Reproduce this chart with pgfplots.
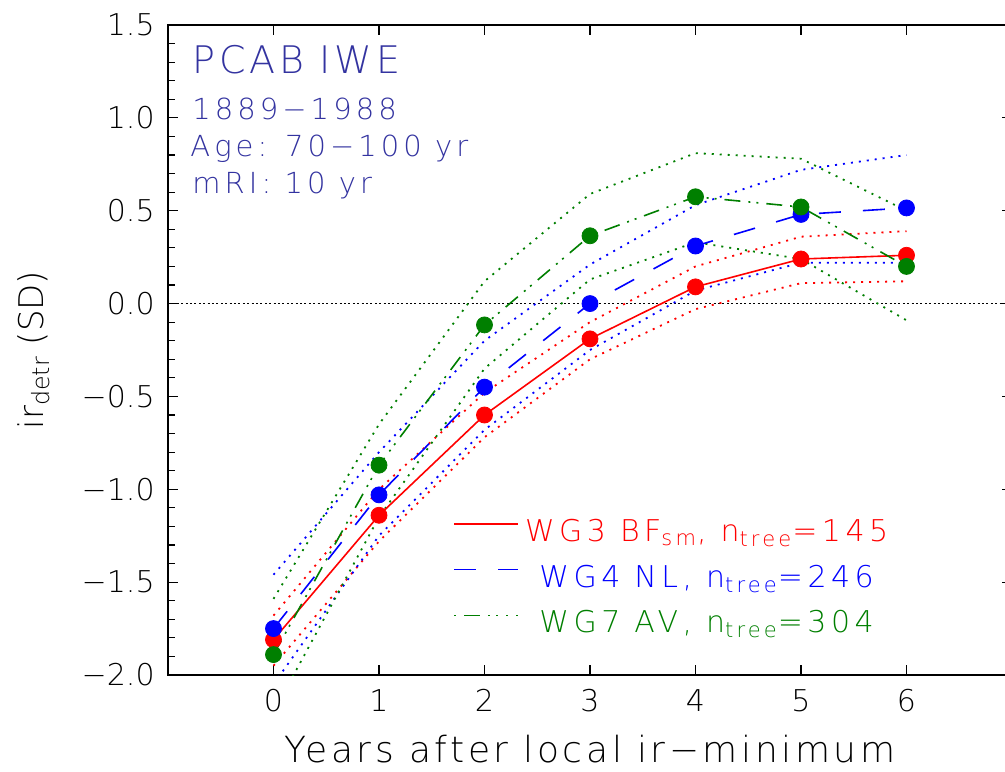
\documentclass[border=0pt]{standalone}
\usepackage{fontspec}
\setmainfont{DejaVu Sans ExtraLight}
\newfontfamily\widefont[LetterSpace=10]{DejaVu Sans ExtraLight}
\newfontfamily\legfont[LetterSpace=15]{DejaVu Sans ExtraLight}
\newfontfamily\annfont[LetterSpace=14]{DejaVu Sans ExtraLight}
\usepackage{pgfplots}
\usepackage{pgfplotstable}
\pgfplotsset{compat=1.18}
\definecolor{wgred}{HTML}{FF0000}
\definecolor{wgblue}{HTML}{0000FF}
\definecolor{wggreen}{HTML}{007F00}
\definecolor{annot}{HTML}{3333A0}

% mean, upper and lower band per group
\pgfplotstableread{
x mean up lo
0 -1.81 -1.68 -1.95
1 -1.14 -1.00 -1.28
2 -0.60 -0.48 -0.72
3 -0.19 -0.10 -0.30
4 0.09 0.20 -0.03
5 0.24 0.36 0.11
6 0.26 0.39 0.12
}\wgthree
\pgfplotstableread{
x mean up lo
0 -1.75 -1.46 -2.05
1 -1.03 -0.80 -1.25
2 -0.45 -0.20 -0.68
3 0.00 0.21 -0.25
4 0.31 0.53 0.07
5 0.48 0.72 0.22
6 0.515 0.80 0.22
}\wgfour
\pgfplotstableread{
x mean up lo
0 -1.89 -1.59 -2.20
1 -0.87 -0.65 -1.15
2 -0.115 0.12 -0.35
3 0.365 0.59 0.13
4 0.575 0.81 0.33
5 0.52 0.78 0.24
6 0.20 0.50 -0.09
}\wgseven

\pgfplotsset{
  band/.style={line width=0.9pt,dash pattern=on 1pt off 3pt,forget plot},
  meanline/.style={line width=0.8pt},
  dot/.style={only marks,mark=*,mark size=4pt,forget plot}
}

\begin{document}
\begin{tikzpicture}
\path[use as bounding box] (-84pt,-48pt) rectangle (418.5pt,337.5pt);
\begin{axis}[
  scale only axis,width=422pt,height=325pt,
  xmin=-1,xmax=7,ymin=-2,ymax=1.5,
  xtick={0,1,2,3,4,5,6},xticklabels={0,1,2,3,4,5,6},
  ytick={-2,-1.5,-1,-0.5,0,0.5,1,1.5},
  yticklabels={−2.0,−1.5,−1.0,−0.5,0.0,0.5,1.0,1.5},
  minor y tick num=4,
  tick align=inside,major tick length=5pt,minor tick length=3.3pt,
  every tick/.style={black,line width=0.6pt},
  axis line style={line width=1.2pt},
  ticklabel style={font=\fontsize{15}{18}\selectfont},
  xticklabel style={anchor=north,inner sep=0pt,yshift=-7pt},
  yticklabel style={anchor=east,inner sep=0pt,xshift=-6.5pt},
  xlabel={Years after local ir−minimum},
  ylabel={ir\textsubscript{detr} (SD)},
  every axis x label/.style={at={(axis description cs:0.5,-0.135)},anchor=base,
    font=\widefont\fontsize{18}{21}\selectfont},
  every axis y label/.style={at={(axis description cs:-0.159,0.5)},rotate=90,anchor=center,
    font=\fontsize{17}{20}\selectfont},
  legend style={at={(0.3377,0.2462)},anchor=north west,draw=none,fill=none,
    inner sep=0pt,row sep=6.2pt,column sep=1pt,font=\legfont\fontsize{15}{18}\selectfont},
]
\addplot[black,line width=0.6pt,dash pattern=on 1pt off 1.2pt,forget plot] coordinates {(-1,0) (7,0)};

\addplot[wgred,band] table[x=x,y=up] {\wgthree};
\addplot[wgred,band] table[x=x,y=lo] {\wgthree};
\addplot[wgblue,band] table[x=x,y=up] {\wgfour};
\addplot[wgblue,band] table[x=x,y=lo] {\wgfour};
\addplot[wggreen,band] table[x=x,y=up] {\wgseven};
\addplot[wggreen,band] table[x=x,y=lo] {\wgseven};

\addplot[wgred,meanline,
  legend image code/.code={\color{wgred}\draw[draw=wgred,line width=0.8pt] (0pt,4pt) -- (32pt,4pt);}]
  table[x=x,y=mean] {\wgthree};
\addlegendentry[text=wgred]{WG3 BF\textsubscript{sm}, n\textsubscript{tree}=145}
\addplot[wgblue,meanline,dash pattern=on 11pt off 11pt,
  legend image code/.code={\color{wgblue}\draw[draw=wgblue,line width=0.8pt,dash pattern=on 11pt off 11pt] (0pt,4pt) -- (32pt,4pt);}]
  table[x=x,y=mean] {\wgfour};
\addlegendentry[text=wgblue]{WG4 NL, n\textsubscript{tree}=246}
\addplot[wggreen,meanline,dash pattern=on 8pt off 4pt on 1pt off 3pt on 1pt off 4pt,
  legend image code/.code={\color{wggreen}\draw[draw=wggreen,line width=0.8pt,dash pattern=on 1pt off 4pt on 8pt off 4pt on 1pt off 3pt on 1pt off 4pt] (0pt,4pt) -- (32pt,4pt);}]
  table[x=x,y=mean] {\wgseven};
\addlegendentry[text=wggreen]{WG7 AV, n\textsubscript{tree}=304}

\addplot[dot,wgred,mark options={fill=wgred,draw=wgred}] table[x=x,y=mean] {\wgthree};
\addplot[dot,wgblue,mark options={fill=wgblue,draw=wgblue}] table[x=x,y=mean] {\wgfour};
\addplot[dot,wggreen,mark options={fill=wggreen,draw=wggreen}] table[x=x,y=mean] {\wgseven};

\node[anchor=base west,inner sep=0pt,text=annot,font=\widefont\fontsize{19}{22}\selectfont,xshift=12pt,yshift=-24pt] at (rel axis cs:0,1) {PCAB IWE};
\node[anchor=base west,inner sep=0pt,text=annot,font=\annfont\fontsize{14.5}{17}\selectfont,xshift=12pt,yshift=-47pt] at (rel axis cs:0,1) {1889−1988};
\node[anchor=base west,inner sep=0pt,text=annot,font=\annfont\fontsize{14.5}{17}\selectfont,xshift=11pt,yshift=-65.5pt] at (rel axis cs:0,1) {Age: 70−100 yr};
\node[anchor=base west,inner sep=0pt,text=annot,font=\annfont\fontsize{14.5}{17}\selectfont,xshift=12pt,yshift=-84pt] at (rel axis cs:0,1) {mRI: 10 yr};
\end{axis}
\end{tikzpicture}
\end{document}
